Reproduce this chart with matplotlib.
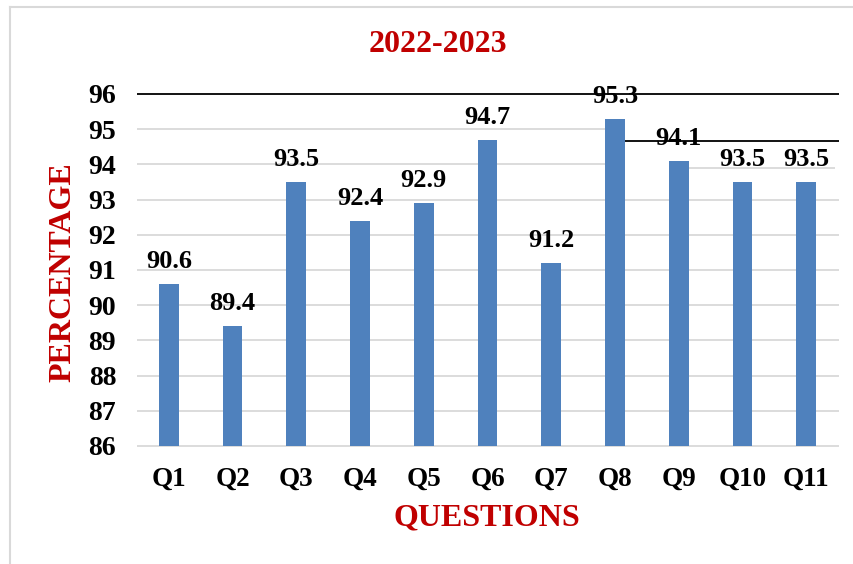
import matplotlib
matplotlib.use("Agg")
import matplotlib.pyplot as plt
from matplotlib.lines import Line2D

categories = ["Q1", "Q2", "Q3", "Q4", "Q5", "Q6", "Q7", "Q8", "Q9", "Q10", "Q11"]
values = [90.6, 89.4, 93.5, 92.4, 92.9, 94.7, 91.2, 95.3, 94.1, 93.5, 93.5]
yticks = [86, 87, 88, 89, 90, 91, 92, 93, 94, 95, 96]

plt.rcParams['font.family'] = ['Liberation Serif', 'DejaVu Serif']
plt.rcParams['font.weight'] = 'bold'

W, H = 854, 564
fig = plt.figure(figsize=(W / 100, H / 100), dpi=100)
ax = fig.add_axes([137 / W, 1 - 446 / H, (838 - 137) / W, (446 - 94) / H])

x = list(range(len(categories)))
bw = 0.31
GRAY = "#D9D9D9"

# gridlines (reproducing the reference's uneven rendering)
xl, xr = -0.5, 10.52
for v in [86, 87, 88, 89, 90, 91, 92, 93]:
    ax.hlines(v, xl, xr, color=GRAY, lw=1.3, zorder=0, clip_on=False)
ax.hlines(94, xl, 7 - bw / 2, color=GRAY, lw=1.3, zorder=0)
ax.hlines(93.9, 8 + bw / 2, 10.45, color=GRAY, lw=1.3, zorder=0)
ax.hlines(95, xl, 7 - bw / 2, color=GRAY, lw=1.3, zorder=0)
ax.hlines(96, xl, xr, color="black", lw=1.3, zorder=3, clip_on=False)
ax.hlines(94.66, 7 + bw / 2, xr, color="black", lw=1.3, zorder=3, clip_on=False)

ax.bar(x, [v - 86 for v in values], bottom=86, width=bw, color="#4F81BD", zorder=2)

for xi, v in zip(x, values):
    ax.annotate(f"{v:.1f}", (xi, v), xytext=(0, 8), textcoords="offset points",
                ha="center", va="bottom", fontsize=19, fontweight="bold",
                color="black", zorder=4)

ax.set_xlim(-0.5, 10.5)
ax.set_ylim(86, 96)
ax.set_yticks(yticks)
ax.set_yticklabels([str(t) for t in yticks], fontsize=20, fontweight="bold")
ax.set_xticks(x)
ax.set_xticklabels(categories, fontsize=19.5, fontweight="bold")
ax.tick_params(axis="y", length=0, pad=15)
ax.tick_params(axis="x", length=0, pad=15)
for s in ax.spines.values():
    s.set_visible(False)

RED = "#C00000"
fig.text(438 / W, 1 - 45 / H, "2022-2023", ha="center", va="center",
         fontsize=23, fontweight="bold", color=RED)
fig.text(487 / W, 1 - 518 / H, "QUESTIONS", ha="center", va="center",
         fontsize=23, fontweight="bold", color=RED)
fig.text(63 / W, 1 - 272 / H, "PERCENTAGE", ha="center", va="center",
         rotation=90, fontsize=23, fontweight="bold", color=RED)

# outer frame
fig.add_artist(Line2D([10 / W, 10 / W], [0, 1 - 7 / H], color="#D9D9D9", lw=1.5,
                      transform=fig.transFigure))
fig.add_artist(Line2D([10 / W, 1], [1 - 7 / H, 1 - 7 / H], color="#D9D9D9", lw=1.5,
                      transform=fig.transFigure))

fig.savefig("out.png", dpi=100)
